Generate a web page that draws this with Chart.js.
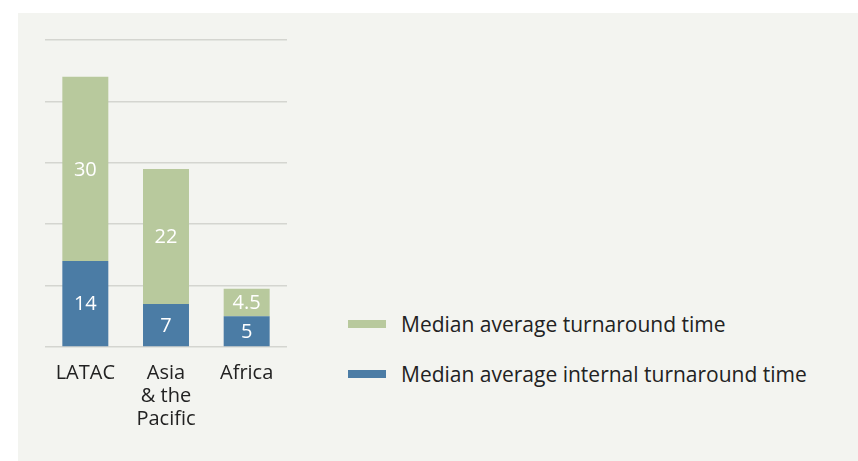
<!DOCTYPE html>
<html>
<head>
<meta charset="utf-8">
<script src="https://cdn.jsdelivr.net/npm/chart.js@4.4.0/dist/chart.umd.min.js"></script>
<style>
  body { margin: 0; background: #fff; width: 858px; height: 461px; overflow: hidden; position: relative; font-family: "Open Sans", sans-serif; }
  .panel { position: absolute; left: 18px; top: 13px; right: 0; bottom: 0; background: #f3f4f0; }
  .chart_box { position: absolute; left: 0; top: 0; width: 300px; height: 461px; }
  .legend { position: absolute; left: 348px; top: 0; color: #222; font-size: 21px; }
  .legend .item { position: absolute; left: 0; white-space: nowrap; }
  .legend .swatch { position: absolute; left: 0; width: 38px; height: 8px; }
  .legend .txt { position: absolute; left: 53px; line-height: 24px; }
</style>
</head>
<body>
<div class="panel"></div>
<div class="chart_box"><canvas id="turnaroundChart"></canvas></div>
<div class="legend" id="legend"></div>

<script>
// \u200C keeps "fi" from turning into a ligature
const regions = [['LATAC'], ['Asia', '& the', 'Paci\u200Cfic'], ['Africa']]
const internalTime = [14, 7, 5]
const turnaroundTime = [30, 22, 4.5]
const gridTicks = [0, 10, 20, 30, 40, 50]

const greenColor = '#b8c99d'
const blueColor = '#4b7ca5'

// legend entries, top to bottom
const legendItems = [
    { label: 'Median average turnaround time', color: greenColor, y: 320 },
    { label: 'Median average internal turnaround time', color: blueColor, y: 370 }
]

const legendBox = document.getElementById('legend')
legendItems.forEach(item => {
    const el = document.createElement('div')
    el.className = 'item'
    el.style.top = item.y + 'px'
    el.innerHTML = '<span class="swatch" style="background:' + item.color + '"></span>' +
        '<span class="txt" style="top:-8px">' + item.label + '</span>'
    legendBox.appendChild(el)
})

// white value labels in the middle of each segment
const segmentLabels = {
    id: 'segmentLabels',
    afterDatasetsDraw(chart) {
        const ctx = chart.ctx
        ctx.save()
        ctx.fillStyle = '#ffffff'
        ctx.font = '20px "Open Sans"'
        ctx.textAlign = 'center'
        ctx.textBaseline = 'middle'
        chart.data.datasets.forEach((ds, i) => {
            chart.getDatasetMeta(i).data.forEach((bar, j) => {
                const mid = (bar.y + bar.base) / 2
                ctx.fillText(String(ds.data[j]), bar.x, mid + 1)
            })
        })
        ctx.restore()
    }
}

document.addEventListener('DOMContentLoaded', function() {
    const ctx = document.getElementById('turnaroundChart').getContext('2d')
    new Chart(ctx, {
        type: 'bar',
        data: {
            labels: regions,
            datasets: [
                {
                    label: 'Median average internal turnaround time',
                    data: internalTime,
                    backgroundColor: blueColor,
                    borderWidth: 0
                },
                {
                    label: 'Median average turnaround time',
                    data: turnaroundTime,
                    backgroundColor: greenColor,
                    borderWidth: 0
                }
            ]
        },
        options: {
            responsive: true,
            maintainAspectRatio: false,
            animation: false,
            categoryPercentage: 1,
            barPercentage: 0.57,
            layout: {
                padding: { left: 45, right: 13, top: 40, bottom: 15 }
            },
            scales: {
                x: {
                    stacked: true,
                    grid: { display: false, drawTicks: false },
                    border: { display: false },
                    ticks: {
                        color: '#222',
                        padding: 15,
                        maxRotation: 0,
                        autoSkip: false,
                        font: { family: 'Open Sans', size: 20, lineHeight: 1.15 }
                    }
                },
                y: {
                    stacked: true,
                    min: 0,
                    max: 50,
                    afterBuildTicks: axis => {
                        axis.ticks = gridTicks.map(v => ({ value: v }))
                    },
                    grid: { color: '#d4d5d0', lineWidth: 1.5, drawTicks: false },
                    border: { display: false },
                    ticks: { display: false }
                }
            },
            plugins: {
                legend: { display: false },
                tooltip: { enabled: false }
            }
        },
        plugins: [segmentLabels]
    })
})
</script>
</body>
</html>
